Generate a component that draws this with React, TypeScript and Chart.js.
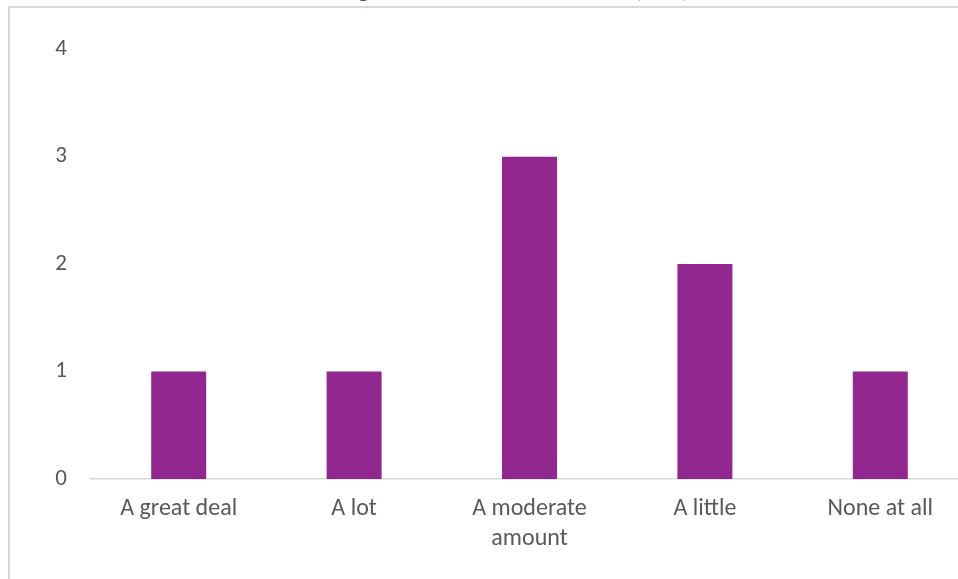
import React, { useEffect, useRef } from "react";
import { Chart, registerables } from "chart.js";

Chart.register(...registerables);

const titleText = "Knowing about the health effects (n=8)";
const categories: (string | string[])[] = [
  "A great deal",
  "A lot",
  ["A moderate", "amount"],
  "A little",
  "None at all",
];
const counts = [1, 1, 3, 2, 1];
const yMin = 0;
const yMax = 4;
const yStep = 1;

const FONT = "Carlito, Lato, 'Open Sans', sans-serif";
const TEXT = "#595959";
const BAR = "#92278F";
const LINE = "#d9d9d9";

const CW = 1000;
const CH = 640;
const TOP = -40;

export default function App() {
  const ref = useRef<HTMLCanvasElement | null>(null);
  useEffect(() => {
    if (!ref.current) return;
    const chart = new Chart(ref.current, {
      type: "bar",
      data: {
        labels: categories,
        datasets: [
          {
            data: counts,
            backgroundColor: BAR,
            borderWidth: 0,
            categoryPercentage: 1,
            barPercentage: 55 / 175.4,
          },
        ],
      },
      options: {
        responsive: false,
        animation: false,
        layout: { padding: { left: 0, right: CW - 968, top: 0, bottom: 0 } },
        plugins: {
          legend: { display: false },
          tooltip: { enabled: false },
          title: {
            display: true,
            text: titleText,
            color: BAR,
            font: { family: FONT, size: 26, weight: "normal", lineHeight: 1.2 },
            padding: { top: 15, bottom: 43 },
          },
        },
        scales: {
          x: {
            grid: { display: false, drawTicks: false },
            border: { display: true, color: LINE, width: 1.5 },
            ticks: {
              color: TEXT,
              font: { family: FONT, size: 24, lineHeight: "30px" as any },
              padding: 15,
              maxRotation: 0,
              autoSkip: false,
            },
            afterFit: (s: any) => {
              s.height = CH + TOP - 479;
            },
          },
          y: {
            min: yMin,
            max: yMax,
            grid: { display: false, drawTicks: false },
            border: { display: false },
            ticks: {
              stepSize: yStep,
              color: TEXT,
              font: { family: FONT, size: 23 },
              padding: 24,
            },
            afterFit: (s: any) => {
              s.width = 91;
            },
          },
        },
      },
    });
    return () => chart.destroy();
  }, []);

  return (
    <div
      style={{
        position: "fixed",
        left: 0,
        top: 0,
        width: 958,
        height: 579,
        overflow: "hidden",
        background: "#ffffff",
      }}
    >
      <div
        style={{
          position: "absolute",
          left: 8,
          top: 6,
          width: 1100,
          height: 800,
          borderLeft: `2px solid ${LINE}`,
          borderTop: `2px solid ${LINE}`,
        }}
      />
      <canvas
        ref={ref}
        width={CW}
        height={CH}
        style={{ position: "absolute", left: 0, top: TOP, width: CW, height: CH }}
      />
    </div>
  );
}
